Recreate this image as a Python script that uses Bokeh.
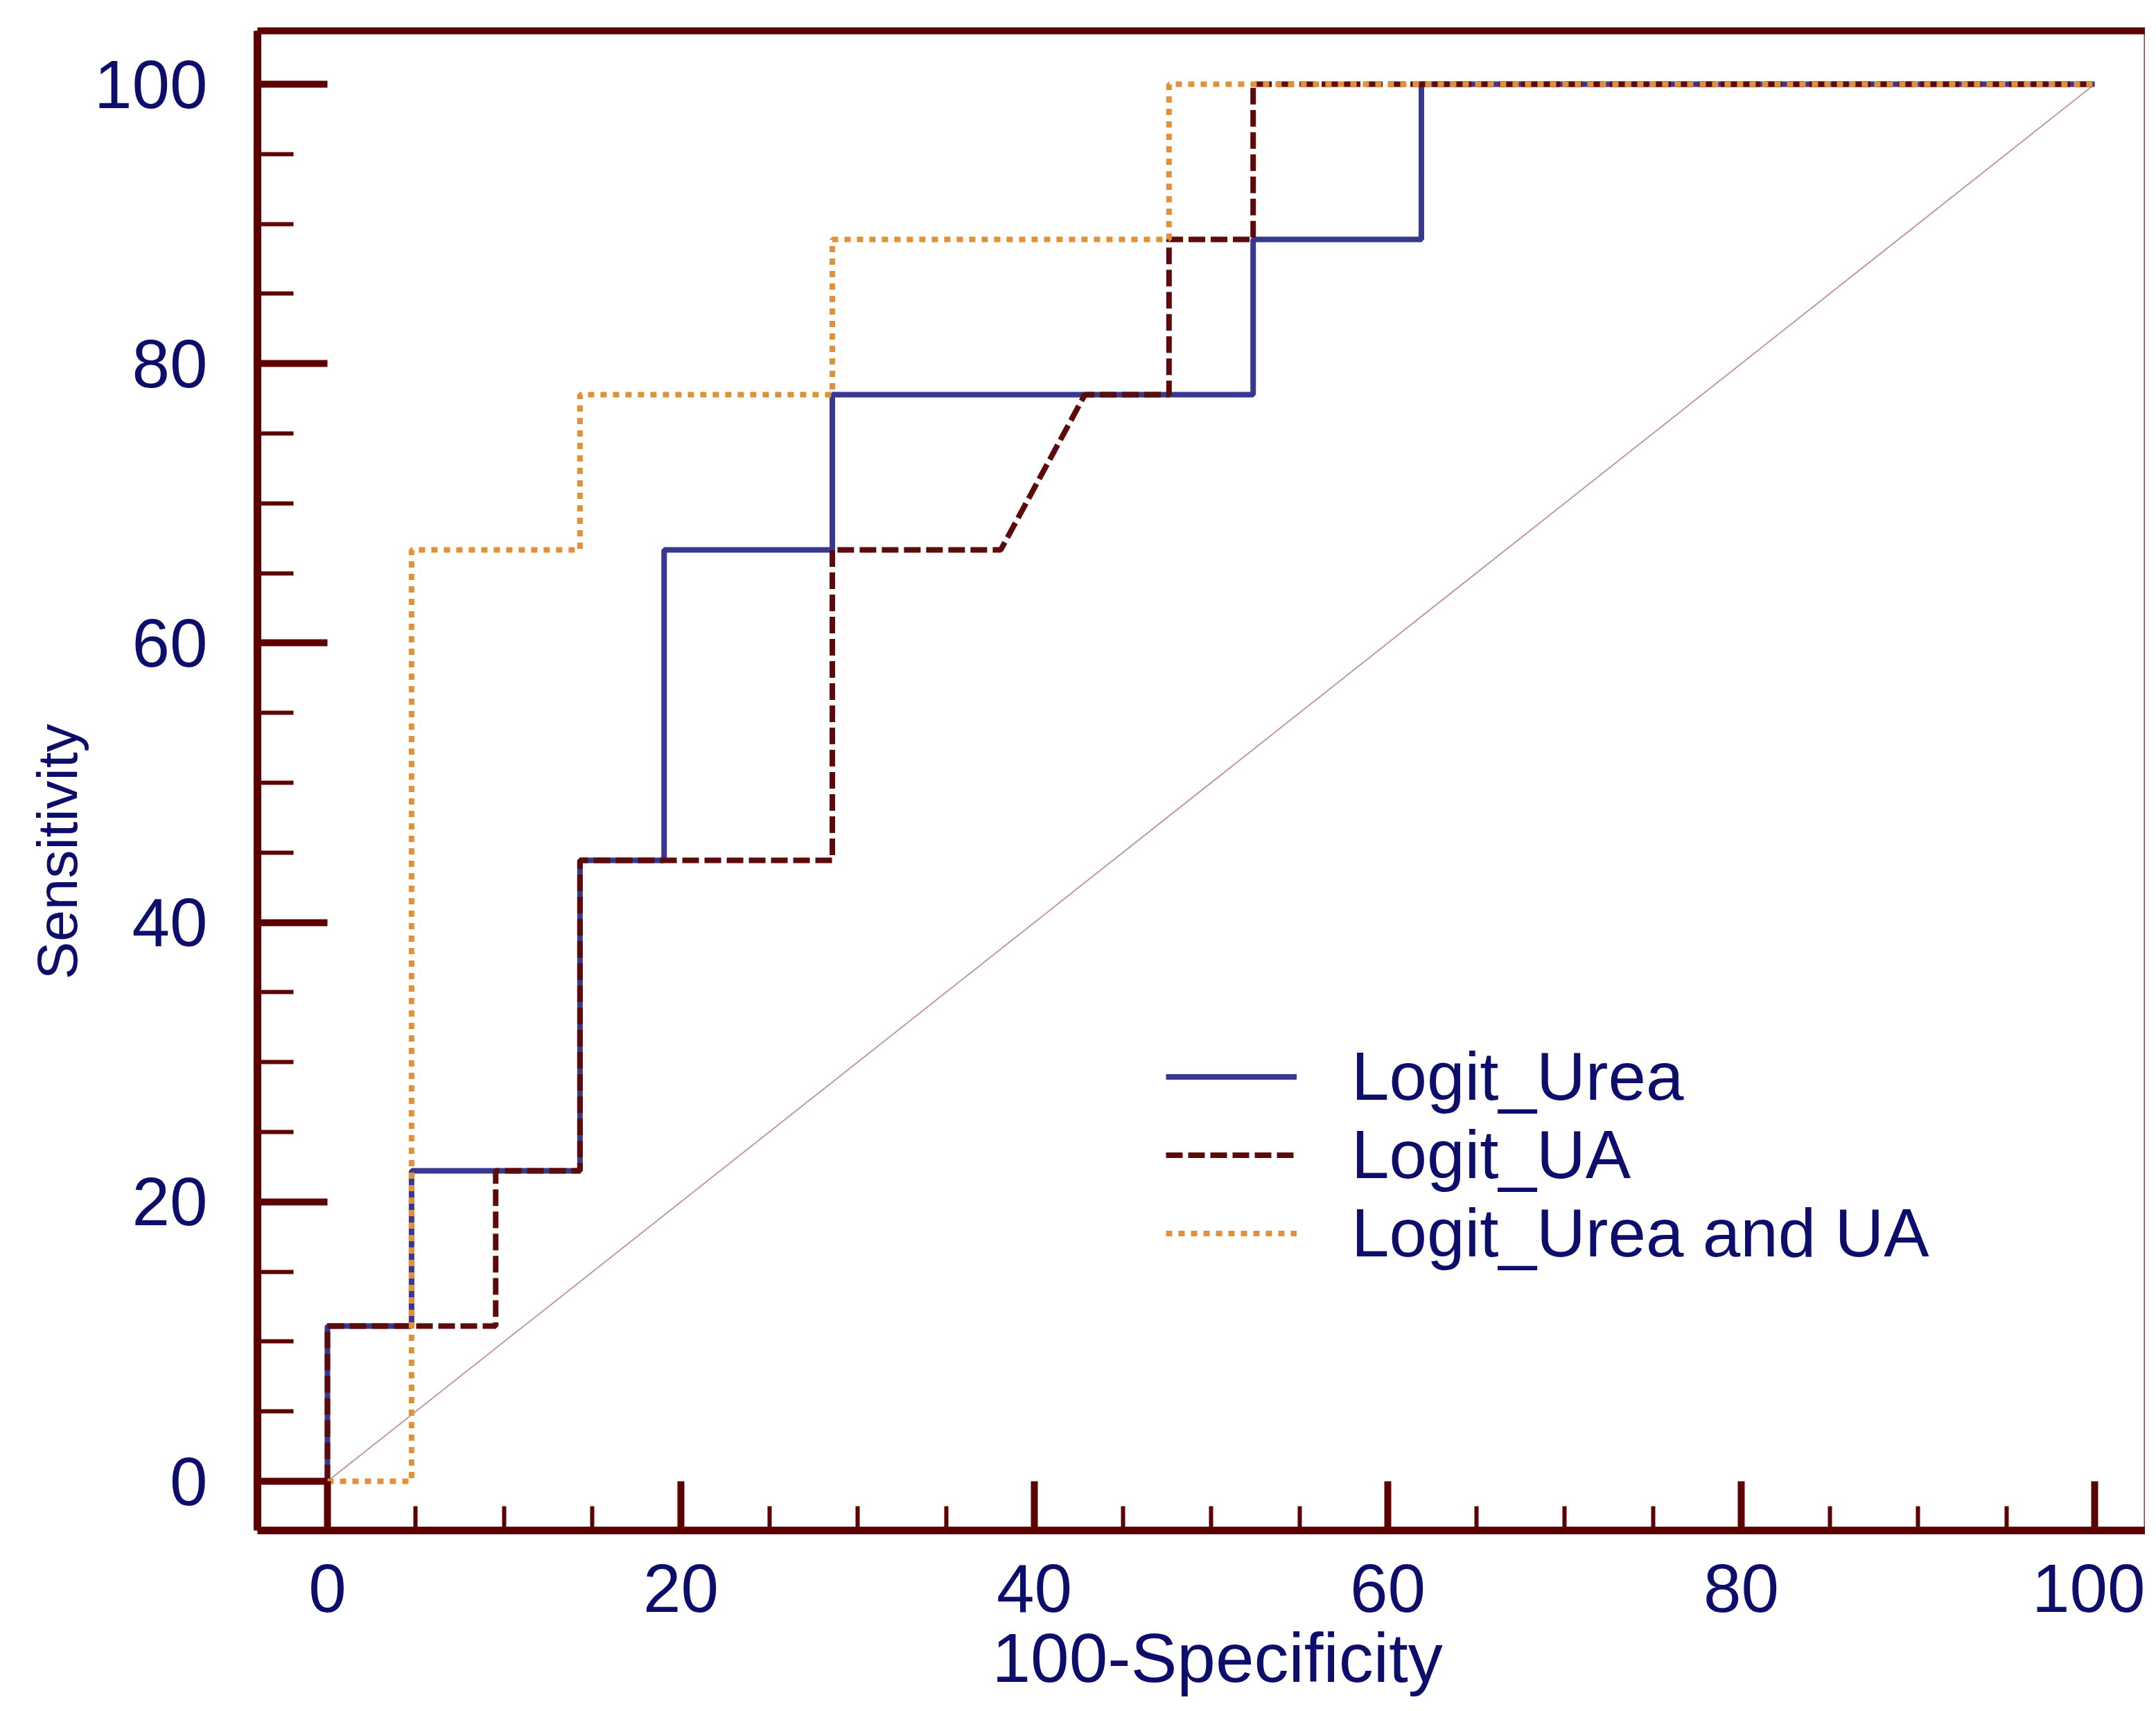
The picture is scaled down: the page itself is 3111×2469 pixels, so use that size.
from bokeh.plotting import figure
from bokeh.models import (Range1d, SingleIntervalTicker, LinearAxis, Legend, LegendItem, Title)
from bokeh.embed import file_html
from bokeh.resources import INLINE

# ---- data (100-Specificity vs Sensitivity, %) ----
urea_x = [0, 0, 4.76, 4.76, 14.29, 14.29, 19.05, 19.05, 28.57, 28.57, 52.38, 52.38, 61.90, 61.90, 100]
urea_y = [0, 11.11, 11.11, 22.22, 22.22, 44.44, 44.44, 66.67, 66.67, 77.78, 77.78, 88.89, 88.89, 100, 100]

ua_x = [0, 0, 9.52, 9.52, 14.29, 14.29, 28.57, 28.57, 38.10, 42.86, 47.62, 47.62, 52.38, 52.38, 100]
ua_y = [0, 11.11, 11.11, 22.22, 22.22, 44.44, 44.44, 66.67, 66.67, 77.78, 77.78, 88.89, 88.89, 100, 100]

both_x = [0, 4.76, 4.76, 14.29, 14.29, 28.57, 28.57, 47.62, 47.62, 100]
both_y = [0, 0, 66.67, 66.67, 77.78, 77.78, 88.89, 88.89, 100, 100]

diag_x = [0, 100]
diag_y = [0, 100]

series_names = ["Logit_Urea", "Logit_UA", "Logit_Urea and UA"]
x_title = "100-Specificity"
y_title = "Sensitivity"

# ---- style ----
FRAME = "#5c0000"
NAVY = "#0d0d6b"
BLUE = "#383890"
MAROON = "#5c0a0a"
ORANGE = "#e0913a"
FONT = "Liberation Sans"

p = figure(width=3095, height=2453, output_backend="svg", toolbar_location=None,
           x_range=Range1d(-3.96, 102.86), y_range=Range1d(-3.52, 103.82),
           min_border_left=371, min_border_right=0, min_border_top=44, min_border_bottom=245,
           x_axis_location=None, y_axis_location=None)
p.grid.visible = False
p.background_fill_color = "white"
p.border_fill_color = "white"
p.outline_line_color = "#8a4040"
p.outline_line_width = 2

def style_axis(ax, tick_in, minor_in, standoff):
    ax.axis_line_color = FRAME
    ax.axis_line_width = 11
    ax.major_tick_line_color = FRAME
    ax.major_tick_line_width = 10
    ax.minor_tick_line_color = FRAME
    ax.minor_tick_line_width = 6
    ax.major_tick_in = tick_in
    ax.major_tick_out = 0
    ax.minor_tick_in = minor_in
    ax.minor_tick_out = 0
    ax.major_label_text_font = FONT
    ax.major_label_text_font_size = "98px"
    ax.major_label_text_color = NAVY
    ax.major_label_standoff = standoff

xaxis = LinearAxis(ticker=SingleIntervalTicker(interval=20, num_minor_ticks=4))
style_axis(xaxis, 71, 35, 49)
p.add_layout(xaxis, "below")

yaxis = LinearAxis(ticker=SingleIntervalTicker(interval=20, num_minor_ticks=4))
style_axis(yaxis, 101, 52, 72)
p.add_layout(yaxis, "left")

top = LinearAxis(ticker=[], major_label_text_font_size="0px")
top.axis_line_color = FRAME
top.axis_line_width = 10
top.major_tick_line_color = None
top.minor_tick_line_color = None
p.add_layout(top, "above")

# axis titles
p.add_layout(Title(text=x_title, text_font=FONT, text_font_size="100px", text_font_style="normal",
                   text_color=NAVY, align="left", offset=1060, standoff=11, text_line_height=1.0), "below")
p.add_layout(Title(text=y_title, text_font=FONT, text_font_size="82px", text_font_style="normal",
                   text_color=NAVY, align="left", offset=795, standoff=10), "left")

# diagonal reference
p.line(diag_x, diag_y, line_color="#c49a9a", line_width=2)

r1 = p.line(urea_x, urea_y, line_color=BLUE, line_width=8)
r2 = p.line(ua_x, ua_y, line_color=MAROON, line_width=8, line_dash="24 8")
r3 = p.line(both_x, both_y, line_color=ORANGE, line_width=8, line_dash="9 9")

legend = Legend(items=[LegendItem(label=series_names[0], renderers=[r1]),
                       LegendItem(label=series_names[1], renderers=[r2]),
                       LegendItem(label=series_names[2], renderers=[r3])],
                location=(1311, 372), orientation="vertical",
                glyph_width=189, glyph_height=105, label_height=105, label_standoff=79,
                padding=0, margin=0, spacing=0,
                border_line_alpha=0, background_fill_alpha=0,
                label_text_font=FONT, label_text_font_size="98px", label_text_color=NAVY,
                label_text_line_height=1.0)
p.add_layout(legend, "center")

open("out.html", "w").write(file_html(p, INLINE))
